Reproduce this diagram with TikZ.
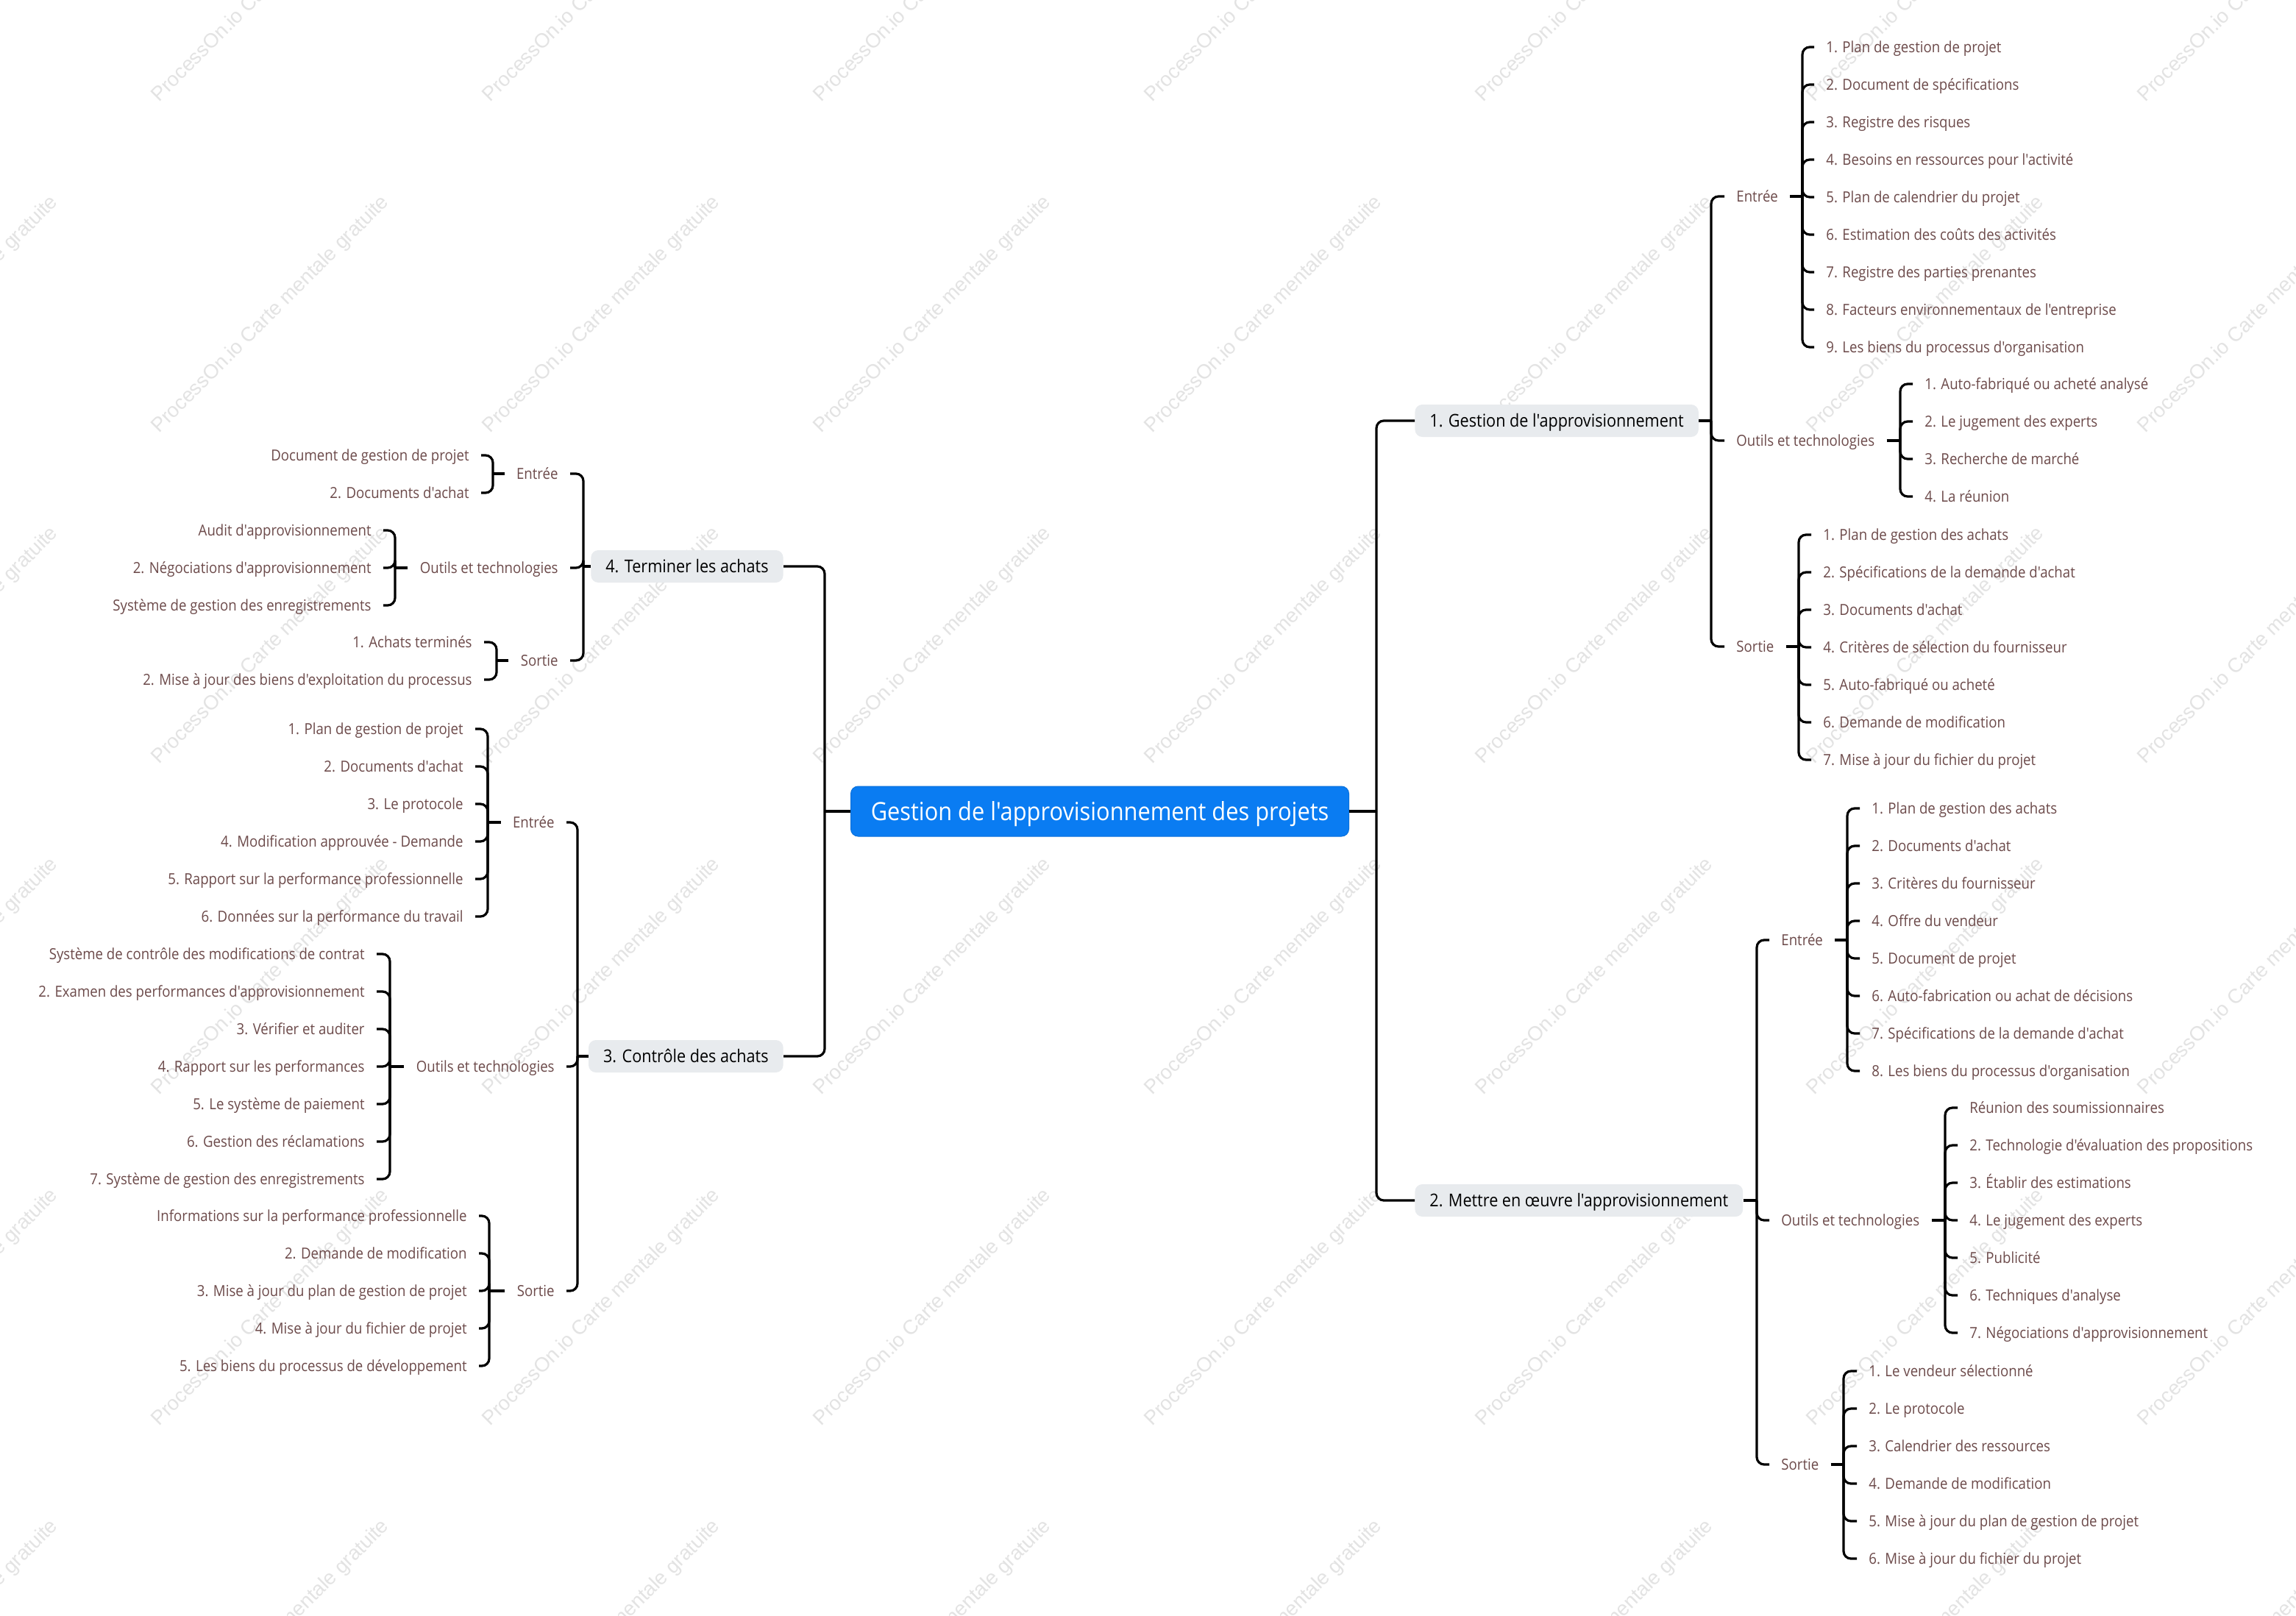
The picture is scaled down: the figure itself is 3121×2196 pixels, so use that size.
\documentclass[tikz,border=0pt]{standalone}
\usepackage{fontspec}
\setmainfont{Open Sans}[FakeStretch=0.9, Ligatures=TeXOff]
\newfontfamily\wmfont{Liberation Sans}
\definecolor{rootblue}{RGB}{10,124,242}
\definecolor{branchgray}{RGB}{232,235,238}
\definecolor{leafbrown}{RGB}{108,74,74}

\begin{document}
\begin{tikzpicture}[
  x=0.5pt, y=-0.5pt,
  root/.style={
    rectangle, rounded corners=5pt,
    fill=rootblue, draw=rootblue!90!black, line width=0.5pt,
    text=white, font=\fontsize{17.1}{20}\selectfont,
    minimum width=338.5pt, minimum height=34pt,
    text height=12.3pt, text depth=0pt
  },
  branch/.style={
    rectangle, rounded corners=5pt,
    fill=branchgray, text=black, font=\fontsize{12}{14}\selectfont,
    inner xsep=10pt, minimum height=22pt,
    text height=8.6pt, text depth=0pt
  },
  cat/.style={
    text=leafbrown, font=\fontsize{10.35}{12}\selectfont,
    inner xsep=8pt, inner ysep=1pt,
    text height=7.4pt, text depth=0pt
  },
  leaf/.style={cat},
  link/.style={line width=1.6pt, rounded corners=5pt},
  hub/.style={line width=2.2pt},
  watermark/.style={
    text=black!11, font=\wmfont\fontsize{13.7}{16}\selectfont, rotate=45
  }
]

%% ── Fond et filigrane ────────────────────────────────────────────────────
\useasboundingbox (0,0) rectangle (3121,2196);
\fill[white] (0,0) rectangle (3121,2196);
\foreach \wx in {-82,368,...,3068}
  \foreach \wy in {-22,428,...,2228}
    \node[watermark] (wm\wx\wy) at (\wx,\wy) {ProcessOn.io Carte mentale gratuite};

%% ── Nœud central et branches ─────────────────────────────────────────────
\node[root] (root) at (1495,1103) {Gestion de l'approvisionnement des projets};

\node[branch, anchor=west] (gest)   at (1923,572)  {1. Gestion de l'approvisionnement};
\node[branch, anchor=west] (mettre) at (1923,1632) {2. Mettre en œuvre l'approvisionnement};
\node[branch, anchor=east] (term)   at (1065,770)  {4. Terminer les achats};
\node[branch, anchor=east] (ctrl)   at (1065,1436) {3. Contrôle des achats};

\coordinate (jR) at (1871,1103);
\coordinate (jL) at (1121,1103);
\draw[hub] (root.east) -- (jR);
\draw[link] (jR) |- (gest.west);
\draw[link] (jR) |- (mettre.west);
\draw[hub] (root.west) -- (jL);
\draw[link] (jL) |- (term.east);
\draw[link] (jL) |- (ctrl.east);

%% ── 1. Gestion de l'approvisionnement ────────────────────────────────────
\coordinate (jg) at (2326,572);
\draw[hub] (gest.east) -- (jg);
\node[cat, anchor=west] (gIn)   at (2344,267) {Entrée};
\node[cat, anchor=west] (gTool) at (2344,599) {Outils et technologies};
\node[cat, anchor=west] (gOut)  at (2344,879) {Sortie};
\foreach \n in {gIn,gTool,gOut} \draw[link] (jg) |- (\n.west);

\coordinate (jgIn) at (2450,267);
\draw[hub] (gIn.east) -- (jgIn);
\foreach \lbl [count=\i] in {1. Plan de gestion de projet, 2. Document de spécifications,
    3. Registre des risques, 4. Besoins en ressources pour l'activité,
    5. Plan de calendrier du projet, 6. Estimation des coûts des activités,
    7. Registre des parties prenantes, 8. Facteurs environnementaux de l'entreprise,
    9. Les biens du processus d'organisation} {
  \node[leaf, anchor=west] (gIn\i) at (2466,13+51*\i) {\lbl};
  \draw[link] (jgIn) |- (gIn\i.west);
}

\coordinate (jgTool) at (2583,599);
\draw[hub] (gTool.east) -- (jgTool);
\foreach \lbl [count=\i] in {1. Auto-fabriqué ou acheté analysé, 2. Le jugement des experts,
    3. Recherche de marché, 4. La réunion} {
  \node[leaf, anchor=west] (gTool\i) at (2600,471+51*\i) {\lbl};
  \draw[link] (jgTool) |- (gTool\i.west);
}

\coordinate (jgOut) at (2445,879);
\draw[hub] (gOut.east) -- (jgOut);
\foreach \lbl [count=\i] in {1. Plan de gestion des achats, 2. Spécifications de la demande d'achat,
    3. Documents d'achat, 4. Critères de sélection du fournisseur,
    5. Auto-fabriqué ou acheté, 6. Demande de modification,
    7. Mise à jour du fichier du projet} {
  \node[leaf, anchor=west] (gOut\i) at (2462,676+51*\i) {\lbl};
  \draw[link] (jgOut) |- (gOut\i.west);
}

%% ── 2. Mettre en œuvre l'approvisionnement ───────────────────────────────
\coordinate (jm) at (2388,1632);
\draw[hub] (mettre.east) -- (jm);
\node[cat, anchor=west] (mIn)   at (2405,1278) {Entrée};
\node[cat, anchor=west] (mTool) at (2405,1659) {Outils et technologies};
\node[cat, anchor=west] (mOut)  at (2405,1991) {Sortie};
\foreach \n in {mIn,mTool,mOut} \draw[link] (jm) |- (\n.west);

\coordinate (jmIn) at (2511,1278);
\draw[hub] (mIn.east) -- (jmIn);
\foreach \lbl [count=\i] in {1. Plan de gestion des achats, 2. Documents d'achat,
    3. Critères du fournisseur, 4. Offre du vendeur, 5. Document de projet,
    6. Auto-fabrication ou achat de décisions, 7. Spécifications de la demande d'achat,
    8. Les biens du processus d'organisation} {
  \node[leaf, anchor=west] (mIn\i) at (2528,1048+51*\i) {\lbl};
  \draw[link] (jmIn) |- (mIn\i.west);
}

\coordinate (jmTool) at (2644,1659);
\draw[hub] (mTool.east) -- (jmTool);
\foreach \lbl [count=\i] in {Réunion des soumissionnaires, 2. Technologie d'évaluation des propositions,
    3. Établir des estimations, 4. Le jugement des experts, 5. Publicité,
    6. Techniques d'analyse, 7. Négociations d'approvisionnement} {
  \node[leaf, anchor=west] (mTool\i) at (2661,1455+51*\i) {\lbl};
  \draw[link] (jmTool) |- (mTool\i.west);
}

\coordinate (jmOut) at (2506,1991);
\draw[hub] (mOut.east) -- (jmOut);
\foreach \lbl [count=\i] in {1. Le vendeur sélectionné, 2. Le protocole,
    3. Calendrier des ressources, 4. Demande de modification,
    5. Mise à jour du plan de gestion de projet, 6. Mise à jour du fichier du projet} {
  \node[leaf, anchor=west] (mOut\i) at (2524,1813+51*\i) {\lbl};
  \draw[link] (jmOut) |- (mOut\i.west);
}

%% ── 4. Terminer les achats (côté gauche) ─────────────────────────────────
\coordinate (jt) at (793,770);
\draw[hub] (term.west) -- (jt);
\node[cat, anchor=east] (tIn)   at (775,644) {Entrée};
\node[cat, anchor=east] (tTool) at (775,772) {Outils et technologies};
\node[cat, anchor=east] (tOut)  at (775,898) {Sortie};
\foreach \n in {tIn,tTool,tOut} \draw[link] (jt) |- (\n.east);

\coordinate (jtIn) at (670,644);
\draw[hub] (tIn.west) -- (jtIn);
\foreach \lbl [count=\i] in {Document de gestion de projet, 2. Documents d'achat} {
  \node[leaf, anchor=east] (tIn\i) at (654,568+51*\i) {\lbl};
  \draw[link] (jtIn) |- (tIn\i.east);
}

\coordinate (jtTool) at (537,772);
\draw[hub] (tTool.west) -- (jtTool);
\foreach \lbl [count=\i] in {Audit d'approvisionnement, 2. Négociations d'approvisionnement,
    Système de gestion des enregistrements} {
  \node[leaf, anchor=east] (tTool\i) at (521,670+51*\i) {\lbl};
  \draw[link] (jtTool) |- (tTool\i.east);
}

\coordinate (jtOut) at (675,898);
\draw[hub] (tOut.west) -- (jtOut);
\foreach \lbl [count=\i] in {1. Achats terminés, 2. Mise à jour des biens d'exploitation du processus} {
  \node[leaf, anchor=east] (tOut\i) at (658,822+51*\i) {\lbl};
  \draw[link] (jtOut) |- (tOut\i.east);
}

%% ── 3. Contrôle des achats (côté gauche) ─────────────────────────────────
\coordinate (jc) at (785,1436);
\draw[hub] (ctrl.west) -- (jc);
\node[cat, anchor=east] (cIn)   at (770,1118) {Entrée};
\node[cat, anchor=east] (cTool) at (770,1450) {Outils et technologies};
\node[cat, anchor=east] (cOut)  at (770,1755) {Sortie};
\foreach \n in {cIn,cTool,cOut} \draw[link] (jc) |- (\n.east);

\coordinate (jcIn) at (663,1118);
\draw[hub] (cIn.west) -- (jcIn);
\foreach \lbl [count=\i] in {1. Plan de gestion de projet, 2. Documents d'achat, 3. Le protocole,
    4. Modification approuvée - Demande, 5. Rapport sur la performance professionnelle,
    6. Données sur la performance du travail} {
  \node[leaf, anchor=east] (cIn\i) at (646,940+51*\i) {\lbl};
  \draw[link] (jcIn) |- (cIn\i.east);
}

\coordinate (jcTool) at (530,1450);
\draw[hub] (cTool.west) -- (jcTool);
\foreach \lbl [count=\i] in {Système de contrôle des modifications de contrat,
    2. Examen des performances d'approvisionnement, 3. Vérifier et auditer,
    4. Rapport sur les performances, 5. Le système de paiement,
    6. Gestion des réclamations, 7. Système de gestion des enregistrements} {
  \node[leaf, anchor=east] (cTool\i) at (512,1246+51*\i) {\lbl};
  \draw[link] (jcTool) |- (cTool\i.east);
}

\coordinate (jcOut) at (665,1755);
\draw[hub] (cOut.west) -- (jcOut);
\foreach \lbl [count=\i] in {Informations sur la performance professionnelle,
    2. Demande de modification, 3. Mise à jour du plan de gestion de projet,
    4. Mise à jour du fichier de projet, 5. Les biens du processus de développement} {
  \node[leaf, anchor=east] (cOut\i) at (651,1602+51*\i) {\lbl};
  \draw[link] (jcOut) |- (cOut\i.east);
}

\end{tikzpicture}
\end{document}
